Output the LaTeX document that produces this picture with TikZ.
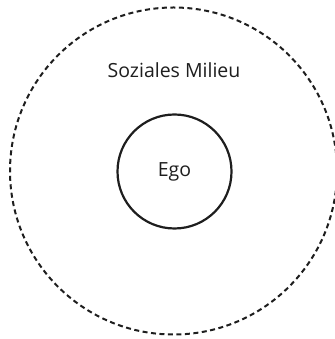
\documentclass[tikz,border=0pt]{standalone}
\usepackage{fontspec}
\setmainfont{Open Sans}
\usetikzlibrary{positioning}
\definecolor{inkdark}{RGB}{30,30,30}
\tikzset{
  milieu/.style={circle, draw=inkdark, line width=2pt, dash pattern=on 5pt off 3.5pt, minimum size=327pt, inner sep=0pt},
  person/.style={circle, draw=inkdark, line width=2.2pt, minimum size=114pt, inner sep=0pt, font=\fontsize{19.5}{23}\selectfont, text=inkdark},
  caption/.style={font=\fontsize{19.5}{23}\selectfont, text=inkdark, inner sep=0pt},
}

\begin{document}
\begin{tikzpicture}[x=1pt,y=1pt]
    \useasboundingbox (0,0) rectangle (334,339);
    \node[milieu] (m) at (173.5,168) {};
    \node[person] (ego) at (174.5,167.5) {Ego};
    \node[caption] (lbl) at (174,269) {Soziales Milieu};
  \end{tikzpicture}
\end{document}
